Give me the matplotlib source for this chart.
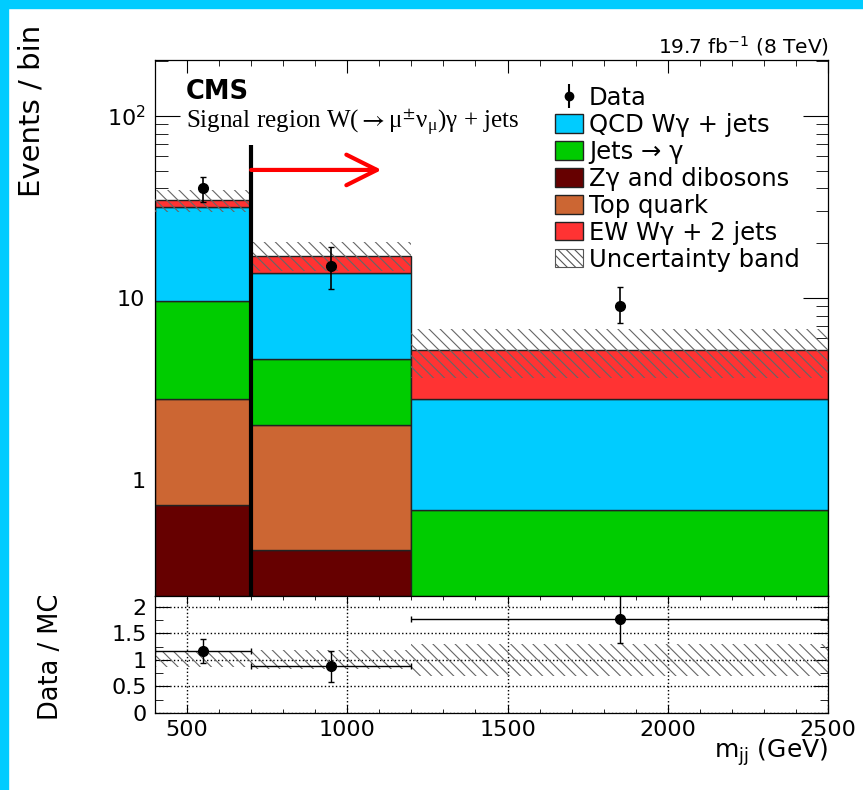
import matplotlib
matplotlib.use('Agg')
import matplotlib.pyplot as plt
import numpy as np
from matplotlib.patches import Patch, Rectangle
from matplotlib.ticker import FixedLocator, MultipleLocator

plt.rcParams['font.family'] = ['DejaVu Sans']
plt.rcParams['mathtext.fontset'] = 'dejavusans'
plt.rcParams['hatch.linewidth'] = 0.8

# bins in m_jj (GeV)
bin_edges = [400, 700, 1200, 2500]
bin_centers = [550, 950, 1850]

# stacked MC contributions (events / bin), bottom to top
zgamma = [0.73, 0.41, 0.0]
top_quark = [2.06, 1.58, 0.0]
jets_gamma = [6.88, 2.61, 0.68]
qcd_wgamma = [21.9, 9.1, 2.10]
ew_wgamma = [2.9, 3.4, 2.40]

# relative uncertainty of the total prediction
rel_unc = [0.14, 0.18, 0.30]

# data
data = [40.0, 15.0, 9.0]
data_err_up = [6.4, 4.0, 2.5]
data_err_dn = [6.3, 3.8, 1.7]

# data / MC ratio
ratio = [1.165, 0.88, 1.77]
ratio_err_up = [0.22, 0.29, 0.60]
ratio_err_dn = [0.225, 0.29, 0.45]

stack_names = ['Z\u03b3 and dibosons', 'Top quark', 'Jets \u2192 \u03b3',
               'QCD W\u03b3 + jets', 'EW W\u03b3 + 2 jets']
stack_vals = [zgamma, top_quark, jets_gamma, qcd_wgamma, ew_wgamma]
stack_colors = ['#660000', '#CC6633', '#00CC00', '#00CCFF', '#FF3333']

W, H = 863, 790
fig = plt.figure(figsize=(W / 100, H / 100), dpi=100)

# cyan frame strips
fig.patches.append(Rectangle((0, 1 - 8 / H), 1, 8 / H, transform=fig.transFigure,
                             color='#00CCFF', zorder=-1))
fig.patches.append(Rectangle((0, 0), 8 / W, 1, transform=fig.transFigure,
                             color='#00CCFF', zorder=-1))

left, right = 155 / W, 828 / W
ax = fig.add_axes([left, 1 - 596 / H, right - left, (596 - 60) / H])
rax = fig.add_axes([left, 1 - 713 / H, right - left, (713 - 596) / H], sharex=ax)

edges = np.array(bin_edges)
widths = np.diff(edges)
bottom = np.zeros(3)
for vals, col in zip(stack_vals, stack_colors):
    vals = np.array(vals)
    ax.bar(edges[:-1], vals, width=widths, bottom=bottom, align='edge',
           color=col, edgecolor='#222222', linewidth=1.0, zorder=2)
    bottom = bottom + vals
total = bottom

unc = np.array(rel_unc)
band_lo = np.append(total * (1 - unc), total[-1] * (1 - unc[-1]))
band_hi = np.append(total * (1 + unc), total[-1] * (1 + unc[-1]))
ax.fill_between(edges, band_lo, band_hi, step='post', facecolor='none',
                edgecolor='#666666', linewidth=0, hatch='\\\\\\', zorder=3)

ax.errorbar(bin_centers, data, yerr=[data_err_dn, data_err_up], fmt='o',
            color='black', markersize=7, capsize=2, elinewidth=1.2, zorder=5)

ax.set_yscale('log')
ax.set_ylim(0.23, 203)
ax.set_xlim(400, 2500)

# selection line and arrow
ax.plot([700, 700], [0.23, 69], color='black', lw=3, zorder=6,
        solid_capstyle='butt')
ax.annotate('', xy=(1107, 50.5), xytext=(700, 50.5),
            arrowprops=dict(arrowstyle='->,head_length=1.1,head_width=0.55',
                            color='#FF0000', lw=3, mutation_scale=20,
                            shrinkA=0, shrinkB=0), zorder=6)

ax.yaxis.set_major_locator(FixedLocator([1, 10, 100]))
ax.set_yticklabels(['1', '10', '$10^{2}$'])
ax.xaxis.set_major_locator(MultipleLocator(500))
ax.xaxis.set_minor_locator(MultipleLocator(100))
ax.tick_params(axis='x', labelbottom=False)
ax.tick_params(which='both', direction='in', top=True, right=True, labelsize=16)
ax.tick_params(axis='y', which='major', length=18, pad=7)
ax.tick_params(axis='y', which='minor', length=9)
ax.tick_params(axis='x', which='major', length=9)
ax.tick_params(axis='x', which='minor', length=4.5)
for sp in ax.spines.values():
    sp.set_linewidth(0.9)

# ratio panel
rx_lo = np.append(1 - unc, 1 - unc[-1])
rx_hi = np.append(1 + unc, 1 + unc[-1])
rax.fill_between(edges, rx_lo, rx_hi, step='post', facecolor='none',
                 edgecolor='#666666', linewidth=0, hatch='\\\\\\', zorder=2)
xerr = [np.array(bin_centers) - edges[:-1], edges[1:] - np.array(bin_centers)]
rax.errorbar(bin_centers, ratio, yerr=[ratio_err_dn, ratio_err_up], xerr=xerr,
             fmt='o', color='black', markersize=7, capsize=2, elinewidth=1.0,
             zorder=5)
rax.set_ylim(0, 2.2)
rax.set_xlim(400, 2500)
rax.yaxis.set_major_locator(FixedLocator([0, 0.5, 1, 1.5, 2]))
rax.set_yticklabels(['0', '0.5', '1', '1.5', '2'])
rax.yaxis.set_minor_locator(MultipleLocator(0.25))
rax.grid(True, which='major', linestyle=':', color='black', linewidth=1.0)
rax.tick_params(which='both', direction='in', top=True, right=True, labelsize=16)
rax.tick_params(axis='y', which='major', length=11, pad=6)
rax.tick_params(axis='y', which='minor', length=5.5)
rax.tick_params(axis='x', which='major', length=6, pad=5)
rax.tick_params(axis='x', which='minor', length=3)
for sp in rax.spines.values():
    sp.set_linewidth(0.9)

# labels
fig.text(32 / W, 1 - 25 / H, 'Events / bin', rotation=90, ha='center', va='top',
         fontsize=21)
fig.text(51 / W, 1 - 657 / H, 'Data / MC', rotation=90, ha='center', va='center',
         fontsize=18.5)
fig.text(828 / W, 1 - 752 / H, 'm$_{\\mathregular{jj}}$ (GeV)', ha='right',
         va='center', fontsize=18)
fig.text(829 / W, 1 - 46 / H, '19.7 fb$^{\\mathregular{-1}}$ (8 TeV)', ha='right',
         va='center', fontsize=14.5)
fig.text(186 / W, 1 - 92 / H, 'CMS', ha='left', va='center', fontsize=18.5,
         fontweight='bold')
fig.text(186 / W, 1 - 123 / H,
         'Signal region W($\\rightarrow$\u03bc$^{\\pm}$\u03bd$_{\\mathregular{\u03bc}}$)\u03b3 + jets',
         ha='left', va='center', fontsize=18,
         family=['Liberation Serif', 'DejaVu Serif'], math_fontfamily='stix')

# legend
data_handle = ax.errorbar([], [], yerr=[], fmt='o', color='black', markersize=6)
handles = [data_handle]
labels = ['Data']
order = [3, 2, 0, 1, 4]
for i in order:
    handles.append(Patch(facecolor=stack_colors[i], edgecolor='#222222', linewidth=1.0))
    labels.append(stack_names[i])
handles.append(Patch(facecolor='white', edgecolor='#555555', hatch='\\\\\\\\', linewidth=0.8))
labels.append('Uncertainty band')
fig.legend(handles, labels, loc='upper left', bbox_to_anchor=(555 / W, 1 - 86 / H),
           frameon=False, fontsize=17.5, borderpad=0, borderaxespad=0,
           handlelength=1.15, handleheight=0.8, handletextpad=0.25,
           labelspacing=0.12)

fig.savefig('out.png', dpi=100)
